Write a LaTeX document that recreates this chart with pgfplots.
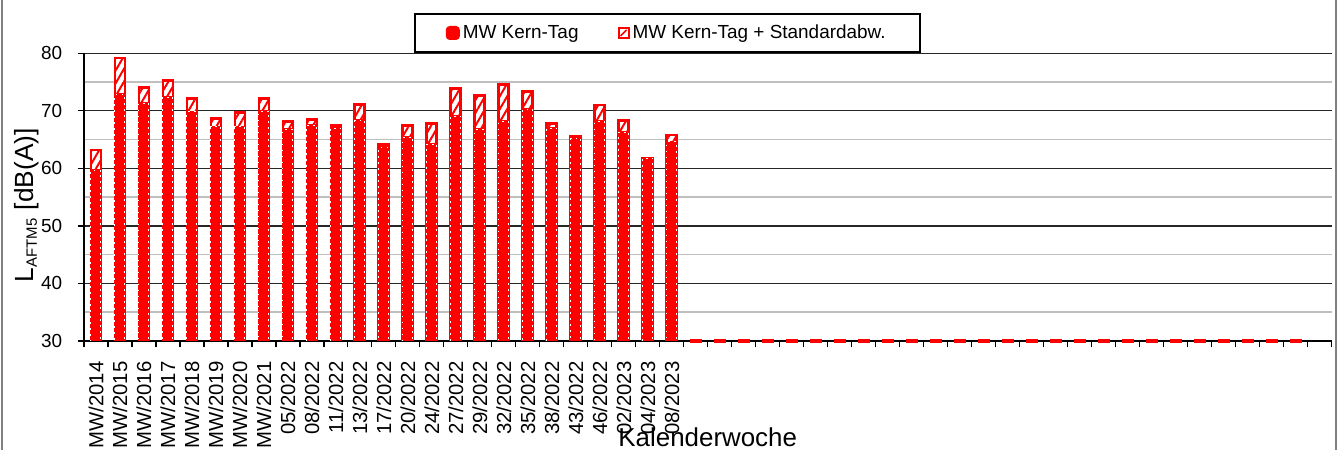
\documentclass[border=0pt]{standalone}
\usepackage{fontspec}
\setmainfont{Liberation Sans}
\usepackage{pgfplots}
\pgfplotsset{compat=1.18}
\usetikzlibrary{patterns.meta}
\tikzset{
  meanbar/.style={fill=red, draw=red, line width=1.4bp,
    postaction={draw=white, line width=0.5bp, dash pattern=on 0.8bp off 2.2bp}},
  sdbar/.style={fill=white, draw=red, line width=1.4bp,
    postaction={pattern={Lines[angle=60, distance=3.2bp, line width=1bp]}, pattern color=red}},
}
\begin{document}
\begin{tikzpicture}
\begin{axis}[
  at={(42bp,54.5bp)}, anchor=south west,
  scale only axis, width=623.75bp, height=143.85bp,
  xmin=0.5, xmax=52.5, ymin=30, ymax=80,
  clip mode=individual,
  axis x line*=bottom, axis y line*=left,
  axis line style={line width=0.6bp, black},
  ytick={30,40,50,60,70,80},
  minor y tick num=1,
  ymajorgrids, yminorgrids,
  major grid style={black!85, line width=0.6bp},
  minor grid style={black!25, line width=0.8bp},
  tick align=outside,
  major tick length=3.2bp, minor tick length=0pt,
  tick style={black, line width=0.6bp},
  /pgf/number format/assume math mode=true,
  yticklabel style={font=\fontsize{9.5}{10}\selectfont, inner sep=0pt, xshift=-7.5bp},
  xtick={0.5,1.5,...,52.5}, xticklabels={},
  extra x ticks={1,...,25},
  extra x tick labels={MW/2014,MW/2015,MW/2016,MW/2017,MW/2018,MW/2019,MW/2020,MW/2021,05/2022,08/2022,11/2022,13/2022,17/2022,20/2022,24/2022,27/2022,29/2022,32/2022,35/2022,38/2022,43/2022,46/2022,02/2023,04/2023,08/2023},
  extra x tick style={major tick length=0pt},
  xticklabel style={yshift=-10bp, rotate=90, anchor=east, inner sep=0pt, font=\fontsize{10.2}{10}\selectfont},
  ylabel={L\textsubscript{\fontsize{7.5}{8}\selectfont AFTM5} [dB(A)]},
  ylabel style={at={(axis description cs:-0.0406,0.472)}, anchor=base, font=\fontsize{13.2}{14}\selectfont},
  xlabel={Kalenderwoche},
  xlabel style={at={(axis description cs:0.5,-0.365)}, anchor=base, font=\fontsize{13}{13}\selectfont},
  legend style={at={(axis description cs:0.4675,1.0706)}, anchor=center,
    draw=black, line width=1bp, legend columns=2,
    font=\fontsize{9.5}{11}\selectfont,
    inner xsep=15.5bp, inner ysep=3.75bp,
    nodes={inner sep=1.5bp},
    /tikz/every even column/.append style={column sep=18bp}},
]
\addlegendimage{legend image code/.code={\fill[red, rounded corners=1.5bp] (0bp,-3bp) rectangle (6bp,3bp);}}
\addlegendentry{MW Kern-Tag}
\addlegendimage{legend image code/.code={\draw[red, line width=1bp, fill=white] (0.5bp,-2.5bp) rectangle (5.5bp,2.5bp); \draw[red, line width=0.8bp] (1.5bp,-1.5bp) -- (4.5bp,1.5bp);}}
\addlegendentry{MW Kern-Tag + Standardabw.}
% mean + standard deviation
\addplot[ybar, bar width=5bp, bar shift=0pt, sdbar, forget plot] coordinates {
(1,63.2) (2,79.2) (3,74.0) (4,75.3) (5,72.2) (6,68.7) (7,69.7) (8,72.1)
(9,68.2) (10,68.5) (11,67.5) (12,71.1) (13,64.2) (14,67.4) (15,67.8)
(16,73.9) (17,72.6) (18,74.6) (19,73.3) (20,67.8) (21,65.5) (22,71.0)
(23,68.3) (24,61.8) (25,65.8)};
% mean
\addplot[ybar, bar width=5bp, bar shift=0pt, meanbar, forget plot] coordinates {
(1,59.6) (2,72.8) (3,71.3) (4,72.4) (5,69.8) (6,67.2) (7,67.2) (8,69.9)
(9,66.8) (10,67.5) (11,67.0) (12,68.3) (13,63.6) (14,65.4) (15,64.2)
(16,69.1) (17,66.7) (18,68.1) (19,70.2) (20,67.0) (21,65.2) (22,68.1)
(23,66.3) (24,61.8) (25,64.6)};
% empty weeks
\addplot[only marks, mark=-, mark size=3bp, mark options={red, line width=2bp}, forget plot] coordinates {
(26,30) (27,30) (28,30) (29,30) (30,30) (31,30) (32,30) (33,30) (34,30)
(35,30) (36,30) (37,30) (38,30) (39,30) (40,30) (41,30) (42,30) (43,30)
(44,30) (45,30) (46,30) (47,30) (48,30) (49,30) (50,30) (51,30)};
\end{axis}
\draw[gray, line width=1.2bp] (1bp,0) -- (1bp,225bp);
\draw[gray, line width=1.2bp] (668bp,0) -- (668bp,225bp);
\pgfresetboundingbox
\useasboundingbox (0,0) rectangle (669bp,225bp);
\end{tikzpicture}
\end{document}
